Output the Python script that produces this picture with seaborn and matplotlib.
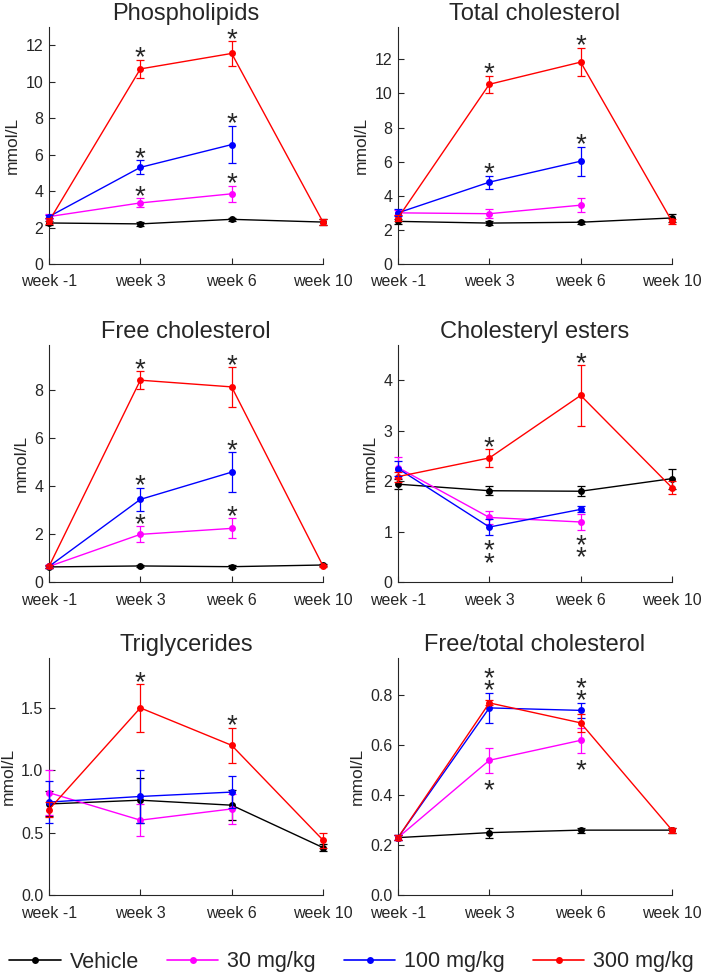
import numpy as np
import pandas as pd
import seaborn as sns
import matplotlib.pyplot as plt
from matplotlib.lines import Line2D

nan = np.nan

weeks = ["week -1", "week 3", "week 6", "week 10"]
groups = ["Vehicle", "30 mg/kg", "100 mg/kg", "300 mg/kg"]
colors = ["#000000", "#ff00ff", "#0000ff", "#ff0000"]

# means / SEM per group (rows: Vehicle, 30, 100, 300 mg/kg)
pl_mean = [[2.25, 2.2, 2.45, 2.3], [2.6, 3.35, 3.85, nan], [2.6, 5.3, 6.55, nan], [2.35, 10.7, 11.55, 2.3]]
pl_err = [[0.12, 0.1, 0.1, 0.15], [0.15, 0.25, 0.43, nan], [0.1, 0.38, 1.03, nan], [0.15, 0.5, 0.68, 0.15]]

tc_mean = [[2.5, 2.4, 2.45, 2.7], [3.0, 2.95, 3.45, nan], [3.0, 4.8, 6.03, nan], [2.7, 10.54, 11.84, 2.5]]
tc_err = [[0.15, 0.12, 0.1, 0.22], [0.15, 0.27, 0.4, nan], [0.2, 0.38, 0.85, nan], [0.15, 0.5, 0.83, 0.15]]

fc_mean = [[0.63, 0.67, 0.64, 0.71], [0.65, 1.99, 2.24, nan], [0.65, 3.45, 4.59, nan], [0.65, 8.43, 8.15, 0.67]]
fc_err = [[0.05, 0.05, 0.05, 0.05], [0.05, 0.33, 0.42, nan], [0.05, 0.49, 0.83, nan], [0.05, 0.38, 0.83, 0.05]]

ce_mean = [[1.94, 1.81, 1.8, 2.05], [2.27, 1.28, 1.19, nan], [2.25, 1.09, 1.44, nan], [2.09, 2.46, 3.7, 1.87]]
ce_err = [[0.1, 0.09, 0.1, 0.2], [0.2, 0.13, 0.15, nan], [0.15, 0.16, 0.06, nan], [0.1, 0.17, 0.6, 0.13]]

tg_mean = [[0.73, 0.76, 0.72, 0.38], [0.82, 0.6, 0.69, nan], [0.745, 0.79, 0.825, nan], [0.685, 1.5, 1.2, 0.44]]
tg_err = [[0.1, 0.18, 0.12, 0.03], [0.18, 0.13, 0.12, nan], [0.17, 0.21, 0.13, nan], [0.06, 0.19, 0.14, 0.06]]

ft_mean = [[0.23, 0.25, 0.26, 0.26], [0.23, 0.54, 0.62, nan], [0.23, 0.75, 0.74, nan], [0.23, 0.77, 0.69, 0.26]]
ft_err = [[0.01, 0.02, 0.01, 0.01], [0.01, 0.05, 0.05, nan], [0.01, 0.06, 0.03, nan], [0.01, 0.01, 0.035, 0.01]]

# significance marks: (group, week, number of stars, side)
pl_stars = [(3, 1, 1, "up"), (2, 1, 1, "up"), (1, 1, 1, "up"), (3, 2, 1, "up"), (2, 2, 1, "up"), (1, 2, 1, "up")]
tc_stars = [(3, 1, 1, "up"), (2, 1, 1, "up"), (3, 2, 1, "up"), (2, 2, 1, "up")]
fc_stars = [(3, 1, 1, "up"), (2, 1, 1, "up"), (1, 1, 1, "up"), (3, 2, 1, "up"), (2, 2, 1, "up"), (1, 2, 1, "up")]
ce_stars = [(3, 1, 1, "up"), (2, 1, 2, "down"), (3, 2, 1, "up"), (1, 2, 2, "down")]
tg_stars = [(3, 1, 1, "up"), (3, 2, 1, "up")]
ft_stars = [(2, 1, 2, "up"), (1, 1, 1, "down"), (2, 2, 2, "up"), (1, 2, 1, "down")]

panels = [
    ("Phospholipids", pl_mean, pl_err, pl_stars, 13.0, [0, 2, 4, 6, 8, 10, 12], "{:.0f}"),
    ("Total cholesterol", tc_mean, tc_err, tc_stars, 13.9, [0, 2, 4, 6, 8, 10, 12], "{:.0f}"),
    ("Free cholesterol", fc_mean, fc_err, fc_stars, 9.9, [0, 2, 4, 6, 8], "{:.0f}"),
    ("Cholesteryl esters", ce_mean, ce_err, ce_stars, 4.7, [0, 1, 2, 3, 4], "{:.0f}"),
    ("Triglycerides", tg_mean, tg_err, tg_stars, 1.9, [0, 0.5, 1.0, 1.5], "{:.1f}"),
    ("Free/total cholesterol", ft_mean, ft_err, ft_stars, 0.95, [0, 0.2, 0.4, 0.6, 0.8], "{:.1f}"),
]

sns.set_style("ticks")
plt.rcParams['font.family'] = ['Liberation Sans', 'DejaVu Sans']
plt.rcParams['axes.linewidth'] = 0.8

fig = plt.figure(figsize=(7.03, 9.74), dpi=100)

lefts = [49 / 703, 398 / 703]
bottoms = [1 - 264 / 974, 1 - 582 / 974, 1 - 895 / 974]
xpads = [7, 8, 8]
ax_w = 274 / 703
ax_h = 237 / 974

STAR_FS = 20
STAR_STEP = 7.2  # points between stacked stars


def draw_stars(ax, x, y, n, side):
    # asterisks stacked in one text, nearest one ~7pt off the error bar end
    if side == "up":
        dy = STAR_STEP - 0.565 * STAR_FS
    else:
        dy = -STAR_STEP * n - 0.565 * STAR_FS
    ax.annotate("\n".join(["*"] * n), xy=(x, y), xytext=(0, dy), textcoords="offset points",
                ha="center", va="baseline", fontsize=STAR_FS, linespacing=0.31,
                annotation_clip=False)


for i, (title, mean, err, stars, ymax, yticks, fmt) in enumerate(panels):
    ax = fig.add_axes([lefts[i % 2], bottoms[i // 2], ax_w, ax_h])

    rows = []
    for g, grp in enumerate(groups):
        for w in range(len(weeks)):
            rows.append({"x": w, "group": grp, "value": mean[g][w], "err": err[g][w]})
    df = pd.DataFrame(rows).dropna()

    for g, grp in enumerate(groups):
        sub = df[df["group"] == grp]
        eb = ax.errorbar(sub["x"], sub["value"], yerr=sub["err"], fmt="none", ecolor=colors[g],
                         elinewidth=0.9, capsize=3, capthick=0.9, zorder=2 + g)
        for art in eb.lines[1] + eb.lines[2]:
            art.set_clip_on(False)

    sns.lineplot(data=df, x="x", y="value", hue="group", hue_order=groups, palette=colors,
                 marker="o", markersize=5, markeredgewidth=0, linewidth=1, errorbar=None,
                 legend=False, ax=ax, clip_on=False, zorder=3)

    for g, w, n, side in stars:
        if side == "up":
            draw_stars(ax, w, mean[g][w] + err[g][w], n, side)
        else:
            draw_stars(ax, w, mean[g][w] - err[g][w], n, side)

    ax.set_xlim(0, 3)
    ax.set_ylim(0, ymax)
    ax.set_xticks(range(len(weeks)))
    ax.set_xticklabels(weeks)
    ax.set_yticks(yticks)
    ax.set_yticklabels([fmt.format(v) for v in yticks])
    ax.tick_params(direction="in", length=4, width=0.8, labelsize=11.5, pad=4)
    ax.tick_params(axis="x", pad=xpads[i // 2])
    ax.set_xlabel("")
    ax.set_ylabel("mmol/L", fontsize=12.5)
    ax.set_title(title, fontsize=17, pad=5)
    sns.despine(ax=ax)

handles = [Line2D([0], [0], color=c, marker="o", markersize=5, markeredgewidth=0, linewidth=1.2) for c in colors]
fig.legend(handles, groups, loc="center", bbox_to_anchor=(0.5, 1 - 962 / 974), ncol=4, frameon=False,
           fontsize=15.5, handlelength=2.4, handletextpad=0.4, columnspacing=1.3)

fig.savefig("out.png", dpi=100)
